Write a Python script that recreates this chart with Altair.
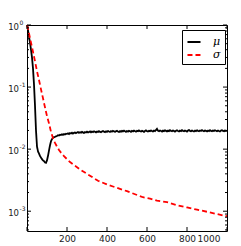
import altair as alt
import pandas as pd

# ---- data ----
mu_x_early = [1, 5, 10, 15, 20, 25, 30, 35, 40, 45, 50, 55, 60, 65, 70, 75, 80, 85, 90, 95,
              100, 105, 110, 115, 120, 125, 130, 135, 140, 145]
mu_y_early = [1.0, 0.82, 0.65, 0.52, 0.4, 0.3, 0.2, 0.11, 0.05, 0.02, 0.011, 0.0092, 0.0085,
              0.0078, 0.0073, 0.0069, 0.0066, 0.0064, 0.0061, 0.0060, 0.0066, 0.0078, 0.0095,
              0.0115, 0.0134, 0.0145, 0.0152, 0.0156, 0.0158, 0.0161]
mu_y_flat = [
    0.0163, 0.0168, 0.0166, 0.0171, 0.0169, 0.0173, 0.0170, 0.0175, 0.0172, 0.0177,
    0.0176, 0.0180, 0.0175, 0.0182, 0.0179, 0.0184, 0.0178, 0.0183, 0.0186, 0.0181,
    0.0185, 0.0189, 0.0183, 0.0187, 0.0184, 0.0190, 0.0186, 0.0182, 0.0188, 0.0185,
    0.0191, 0.0186, 0.0189, 0.0193, 0.0187, 0.0192, 0.0188, 0.0194, 0.0190, 0.0186,
    0.0192, 0.0189, 0.0195, 0.0190, 0.0187, 0.0193, 0.0196, 0.0191, 0.0188, 0.0194,
    0.0190, 0.0196, 0.0192, 0.0189, 0.0195, 0.0191, 0.0197, 0.0193, 0.0190, 0.0194,
    0.0198, 0.0192, 0.0189, 0.0195, 0.0191, 0.0197, 0.0193, 0.0199, 0.0194, 0.0190,
    0.0196, 0.0192, 0.0198, 0.0194, 0.0190, 0.0197, 0.0193, 0.0199, 0.0195, 0.0191,
    0.0197, 0.0194, 0.0200, 0.0195, 0.0192, 0.0198, 0.0194, 0.0190, 0.0196, 0.0201,
    0.0195, 0.0192, 0.0198, 0.0194, 0.0200, 0.0196, 0.0193, 0.0199, 0.0195, 0.0203,
    0.0212, 0.0198, 0.0194, 0.0200, 0.0196, 0.0192, 0.0199, 0.0195, 0.0201, 0.0197,
    0.0193, 0.0199, 0.0195, 0.0202, 0.0197, 0.0194, 0.0200, 0.0196, 0.0192, 0.0198,
    0.0201, 0.0196, 0.0193, 0.0199, 0.0195, 0.0202, 0.0197, 0.0194, 0.0200, 0.0196,
    0.0192, 0.0199, 0.0203, 0.0197, 0.0194, 0.0200, 0.0196, 0.0193, 0.0199, 0.0195,
    0.0201, 0.0197, 0.0194, 0.0200, 0.0196, 0.0203, 0.0198, 0.0194, 0.0200, 0.0197,
    0.0193, 0.0199, 0.0195, 0.0202, 0.0197, 0.0194, 0.0200, 0.0196, 0.0201, 0.0198,
    0.0194, 0.0200, 0.0196, 0.0193, 0.0199, 0.0202, 0.0197, 0.0194, 0.0200, 0.0196,
    0.0199,
]
mu_x_flat = list(range(150, 1001, 5))

sigma_x = [1, 10, 20, 30, 40, 50, 60, 70, 80, 90, 100, 110, 120, 130, 140, 150, 160, 170,
           185, 200, 215, 240, 270, 305, 355, 400, 430, 500, 580, 615, 650, 700, 750, 800,
           850, 900, 950, 1000]
sigma_y = [1.0, 0.73, 0.52, 0.37, 0.26, 0.18, 0.13, 0.092, 0.066, 0.047, 0.034, 0.026, 0.019,
           0.015, 0.0126, 0.011, 0.0097, 0.0088, 0.0077, 0.0069, 0.0062, 0.0054, 0.0046,
           0.0039, 0.0031, 0.0027, 0.0025, 0.0021, 0.00168, 0.0016, 0.00148, 0.0014, 0.00125,
           0.00115, 0.00106, 0.00098, 0.0009, 0.00083]

series_names = ["μ", "σ"]
x_major = [0, 200, 400, 600, 800, 1000]
y_major = [1.0, 0.1, 0.01, 0.001]
y_exponents = ["0", "-1", "-2", "-3"]
y_minor = [m * d for d in [0.0001, 0.001, 0.01, 0.1] for m in range(2, 10) if m * d >= 0.00049]

mu_x = mu_x_early + mu_x_flat
mu_y = mu_y_early + mu_y_flat
df = pd.concat([
    pd.DataFrame({"gen": mu_x, "val": mu_y, "series": series_names[0], "order": range(len(mu_x))}),
    pd.DataFrame({"gen": sigma_x, "val": sigma_y, "series": series_names[1], "order": range(len(sigma_x))}),
])

W, H = 200, 206
xscale = alt.Scale(domain=[0, 1000], nice=False, zero=False)
yscale = alt.Scale(type="log", domain=[0.00048, 1.0], nice=False)

lines = alt.Chart(df).mark_line(strokeWidth=1.8).encode(
    x=alt.X("gen:Q", scale=xscale, title="Generation",
            axis=alt.Axis(values=x_major[1:], ticks=False, domain=False, grid=False, format="d",
                          labelFontSize=9, labelColor="#222", labelPadding=3,
                          labelOffset={"condition": {"test": "datum.value >= 1000", "value": -7}, "value": 0},
                          titleFontSize=10, titleFontWeight="normal", titlePadding=2,
                          labelFont="DejaVu Sans", titleFont="DejaVu Sans")),
    y=alt.Y("val:Q", scale=yscale, title=None, axis=None),
    color=alt.Color("series:N", scale=alt.Scale(domain=series_names, range=["black", "#ff0000"]),
                    legend=alt.Legend(title=None, orient="none", legendX=155, legendY=5,
                                      symbolType="stroke", symbolSize=170, symbolStrokeWidth=2,
                                      labelFont="DejaVu Serif", labelFontStyle="italic",
                                      labelFontSize=11, labelOffset=11, rowPadding=0,
                                      padding=4, strokeColor="black", fillColor="white",
                                      cornerRadius=0)),
    strokeDash=alt.StrokeDash("series:N", scale=alt.Scale(domain=series_names, range=[[1, 0], [5, 3]]),
                              legend=None),
    order="order:Q",
)

tick_df_x = pd.DataFrame({"gen": x_major})
tick_df_y = pd.DataFrame({"val": y_major, "exp": y_exponents})
tick_df_ym = pd.DataFrame({"val": y_minor})

def xt(y0, y1):
    return alt.Chart(tick_df_x).mark_rule(color="black", strokeWidth=1).encode(
        x=alt.X("gen:Q", scale=xscale), y=alt.value(y0), y2=alt.value(y1))

def yt(data, x0, x1):
    return alt.Chart(data).mark_rule(color="black", strokeWidth=1).encode(
        y=alt.Y("val:Q", scale=yscale), x=alt.value(x0), x2=alt.value(x1))

base_lab = alt.Chart(tick_df_y)
tens = base_lab.mark_text(
    align="right", baseline="middle", fontSize=8.5, font="DejaVu Sans", color="#222", dy=1.5
).encode(y=alt.Y("val:Q", scale=yscale), x=alt.value(-8), text=alt.value("10"))
exps = base_lab.mark_text(
    align="left", baseline="middle", fontSize=6, font="DejaVu Sans", color="#222", dy=-2
).encode(y=alt.Y("val:Q", scale=yscale), x=alt.value(-7.5), text="exp:N")

chart = alt.layer(
    lines,
    xt(0, 4), xt(H, H - 4),
    yt(tick_df_y, 0, 4), yt(tick_df_y, W, W - 4),
    yt(tick_df_ym, 0, 2), yt(tick_df_ym, W, W - 2),
    tens, exps,
).properties(
    width=W, height=H,
    autosize=alt.AutoSizeParams(type="none"),
    padding={"left": 19, "top": 17, "right": 6, "bottom": 22},
    background="white",
).configure_view(stroke="black", strokeWidth=1)

chart.save("out.html", embed_options={"renderer": "svg", "actions": False})
